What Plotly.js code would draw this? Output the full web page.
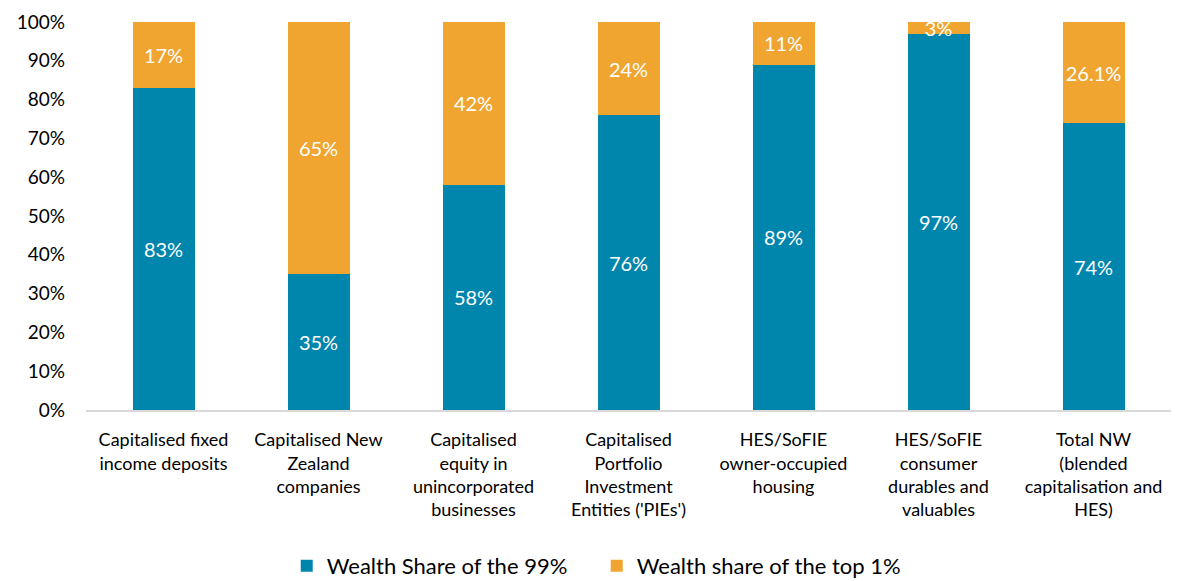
<!DOCTYPE html>
<html>
<head>
<meta charset="utf-8">
<script src="https://cdn.plot.ly/plotly-3.0.1.min.js"></script>
<style>html,body{margin:0;padding:0;background:#fff;}#chart{width:1177px;height:581px;}</style>
</head>
<body>
<div id="chart"></div>
<script>
const categories = [
  "Capitalised fixed<br>income deposits",
  "Capitalised New<br>Zealand<br>companies",
  "Capitalised<br>equity in<br>unincorporated<br>businesses",
  "Capitalised<br>Portfolio<br>Investment<br>Entities ('PIEs')",
  "HES/SoFIE<br>owner-occupied<br>housing",
  "HES/SoFIE<br>consumer<br>durables and<br>valuables",
  "Total NW<br>(blended<br>capitalisation and<br>HES)"
];
const share99 = [83, 35, 58, 76, 89, 97, 73.9];
const share99Labels = ["83%", "35%", "58%", "76%", "89%", "97%", "74%"];
const top1 = [17, 65, 42, 24, 11, 3, 26.1];
const top1Labels = ["17%", "65%", "42%", "24%", "11%", "3%", "26.1%"];
const yTicks = [0, 10, 20, 30, 40, 50, 60, 70, 80, 90, 100];
const yTickText = yTicks.map(v => v + "%");

const FONT = "Lato, 'Open Sans', sans-serif";

const traces = [
  {
    type: "bar", name: "Wealth Share of the 99%", x: categories, y: share99,
    text: share99Labels, textposition: "inside", insidetextanchor: "middle",
    constraintext: "none", textangle: 0,
    textfont: {family: FONT, size: 20, color: "#ffffff"},
    marker: {color: "#0085AD"}, hoverinfo: "none"
  },
  {
    type: "bar", name: "Wealth share of the top 1%", x: categories, y: top1,
    text: top1Labels, textposition: "inside", insidetextanchor: "middle",
    constraintext: "none", textangle: 0,
    textfont: {family: FONT, size: 20, color: "#ffffff"},
    marker: {color: "#F0A530"}, hoverinfo: "none"
  }
];

const layout = {
  width: 1177, height: 581,
  barmode: "stack", bargap: 0.6,
  margin: {l: 86, r: 6, t: 22, b: 171},
  paper_bgcolor: "#ffffff", plot_bgcolor: "#ffffff",
  font: {family: FONT, color: "#000000", size: 18},
  xaxis: {
    showgrid: false, showline: true, linecolor: "#d9d9d9", linewidth: 1.5,
    ticks: "", tickfont: {family: FONT, size: 18, color: "#000000"},
    ticklabelstandoff: 13, automargin: false
  },
  yaxis: {
    range: [0, 100], tickmode: "array", tickvals: yTicks, ticktext: yTickText,
    showgrid: false, zeroline: false, showline: false, ticks: "",
    tickfont: {family: FONT, size: 19, color: "#000000"},
    ticklabelstandoff: 20, automargin: false
  },
  legend: {
    orientation: "h", x: 0.185, xanchor: "left", xref: "paper",
    y: 0.026, yanchor: "middle", yref: "container",
    font: {family: FONT, size: 22, color: "#000000"}, traceorder: "normal",
    itemwidth: 30, entrywidth: 265, entrywidthmode: "pixels"
  },
  showlegend: true
};

Plotly.newPlot("chart", traces, layout, {displayModeBar: false, staticPlot: true});
</script>
</body>
</html>
